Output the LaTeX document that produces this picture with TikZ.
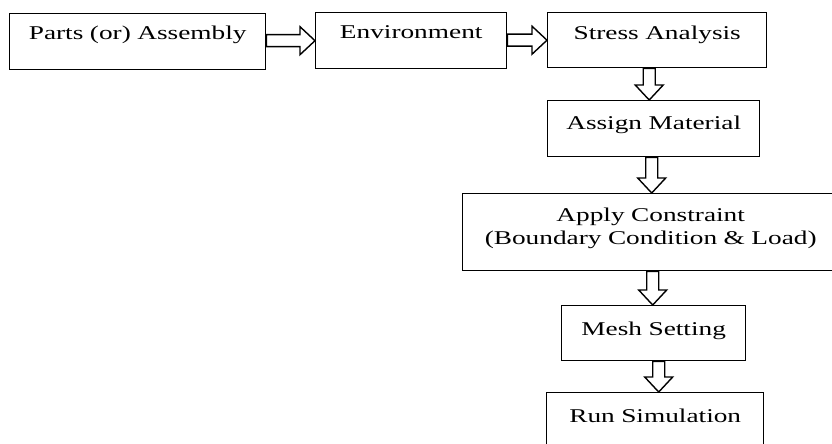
\documentclass[tikz,border=0pt]{standalone}
\usepackage{fontspec}
\setmainfont{Liberation Serif}[FakeStretch=1.4]
\usetikzlibrary{calc}

\tikzset{every picture/.style={line width=1.4pt}}
\tikzset{
  box/.style={draw, anchor=north west, inner xsep=0pt, inner ysep=0pt, align=center,
    font=\fontsize{19.5}{23}\selectfont},
  hollow/.style={to path={let \p1=($(\tikztotarget)!15pt!(\tikztostart)$) in
    ($(\tikztostart)!6pt!90:(\tikztotarget)$) -- ($(\p1)!6pt!90:(\tikztotarget)$)
    -- ($(\p1)!14pt!90:(\tikztotarget)$) -- (\tikztotarget)
    -- ($(\p1)!14pt!-90:(\tikztotarget)$) -- ($(\p1)!6pt!-90:(\tikztotarget)$)
    -- ($(\tikztostart)!6pt!-90:(\tikztotarget)$) -- cycle}},
}

\begin{document}
\begin{tikzpicture}[x=1pt,y=-1pt]

\useasboundingbox (0,0) rectangle (832,444);
\clip (0,0) rectangle (832,444);

\node [box, text width=256, text height=26, text depth=30] (parts)  at (9,13)    {Parts (or) Assembly};
\node [box, text width=191, text height=26, text depth=30] (env)    at (315,12)  {Environment};
\node [box, text width=219, text height=27, text depth=28] (stress) at (547,12)  {Stress Analysis};
\node [box, text width=212, text height=29, text depth=27] (assign) at (547,100) {Assign Material};
\node [box, text width=376, text height=28, text depth=49] (apply)  at (462,193) {Apply Constraint\\(Boundary Condition \& Load)};
\node [box, text width=184, text height=30, text depth=25] (mesh)   at (561,305) {Mesh Setting};
\node [box, text width=217, text height=30, text depth=30] (run)    at (546,392) {Run Simulation};

\draw [hollow] (parts.east |- env.west) to (env.west);
\draw [hollow] (env.east |- stress.west) to (stress.west);
\draw [hollow] ($(stress.south)+(-8,0)$) to ($(stress.south |- assign.north)+(-8,0)$);
\draw [hollow] ($(assign.south)+(-2,0)$) to ($(assign.south |- apply.north)+(-2,0)$);
\draw [hollow] ($(apply.south)+(2,0)$) to ($(apply.south |- mesh.north)+(2,0)$);
\draw [hollow] ($(mesh.south)+(5,0)$) to ($(mesh.south |- run.north)+(5,0)$);

\end{tikzpicture}
\end{document}
